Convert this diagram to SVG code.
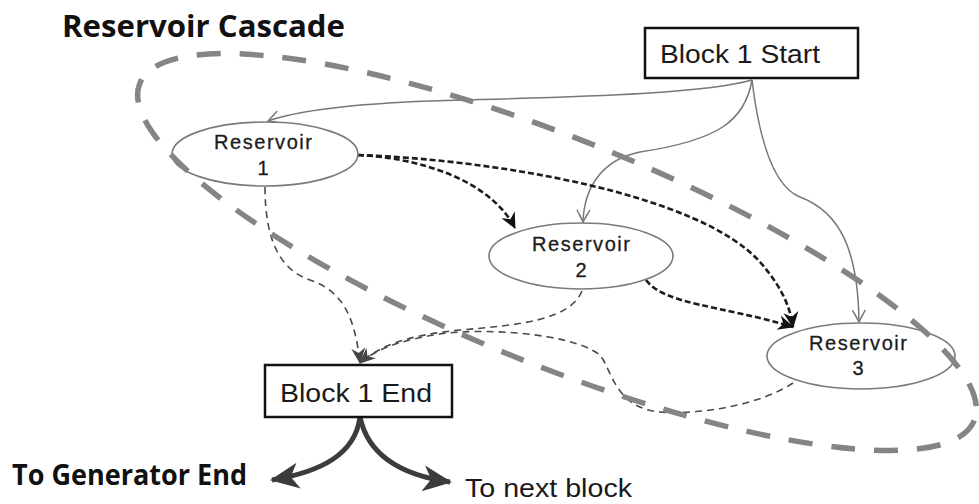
<svg xmlns="http://www.w3.org/2000/svg" width="979" height="504" viewBox="0 0 979 504">
  <style>
    .title { font-family: "Open Sans", "Liberation Sans", sans-serif; font-weight: 700; fill: #111; }
    .box { fill: #fff; stroke: #111; stroke-width: 2.5; }
    .box-label { font-family: "Liberation Sans", Arial, sans-serif; font-size: 25px; fill: #1a1a1a; }
    .res { fill: #fff; stroke: #7a7a7a; stroke-width: 1.6; }
    .res-label { font-family: "Liberation Sans", Arial, sans-serif; font-size: 20px; fill: #1c1c1c; stroke: #1c1c1c; stroke-width: 0.3; text-anchor: middle; }
    .feed { fill: none; stroke: #777; stroke-width: 1.5; }
    .spill { fill: none; stroke: #1c1c1c; stroke-width: 2.6; stroke-dasharray: 6 3; }
    .release { fill: none; stroke: #4a4a4a; stroke-width: 1.6; stroke-dasharray: 7 5; }
    .out { fill: none; stroke: #3c3c3c; stroke-width: 5; }
    .boundary { fill: none; stroke: #858585; stroke-width: 5.5; stroke-dasharray: 24 19; }
    .plain { font-family: "Liberation Sans", Arial, sans-serif; font-size: 26px; fill: #1a1a1a; }
  </style>
  <defs>
    <marker id="arrow-open" markerUnits="userSpaceOnUse" markerWidth="16" markerHeight="16" refX="13" refY="8" orient="auto">
      <path d="M1,1.5 L13,8 L1,14.5 M5,4 L13,8 L5,12" fill="none" stroke="#777" stroke-width="1.4"/>
    </marker>
    <marker id="arrow-solid" markerUnits="userSpaceOnUse" markerWidth="18" markerHeight="18" refX="15" refY="9" orient="auto">
      <path d="M0,1.5 L16,9 L0,16.5 L5,9 Z" fill="#111"/>
    </marker>
    <marker id="arrow-release" markerUnits="userSpaceOnUse" markerWidth="18" markerHeight="18" refX="15" refY="9" orient="auto">
      <path d="M0,2 L16,9 L0,16 L5,9 Z" fill="#444"/>
    </marker>
    <marker id="arrow-thick" markerUnits="userSpaceOnUse" markerWidth="32" markerHeight="28" refX="27" refY="14" orient="auto">
      <path d="M0,1 L29,14 L0,27 L8,14 Z" fill="#3c3c3c"/>
    </marker>
  </defs>

  <rect width="979" height="504" fill="#fff"/>

  <text class="title" x="62" y="37" font-size="31" textLength="283" lengthAdjust="spacingAndGlyphs">Reservoir Cascade</text>

  <!-- connectors -->
  <g id="connectors">
    <!-- inflows from block start -->
    <path class="feed" d="M752,80 C700,95 560,97 430,101 C350,104 300,110 268,121" marker-end="url(#arrow-open)"/>
    <path class="feed" d="M752,80 C745,120 720,140 640,152 C600,160 584,190 583,222" marker-end="url(#arrow-open)"/>
    <path class="feed" d="M752,80 C758,130 770,185 800,197 C840,212 858,250 859,322" marker-end="url(#arrow-open)"/>
    <!-- spills between reservoirs -->
    <path class="spill" d="M358,155 C420,158 490,180 515,228" marker-end="url(#arrow-solid)"/>
    <path class="spill" d="M358,155 C500,160 700,195 760,262 C780,285 790,305 793,327" marker-end="url(#arrow-solid)"/>
    <path class="spill" d="M646,280 C665,305 720,305 793,327" marker-end="url(#arrow-solid)"/>
    <!-- releases to block end -->
    <path class="release" d="M265,187 C265,240 280,270 310,280 C345,292 355,320 360,363" marker-end="url(#arrow-release)"/>
    <path class="release" d="M582,291 C570,320 520,325 460,330 C410,335 380,345 360,363" marker-end="url(#arrow-release)"/>
    <path class="release" d="M793,383 C760,405 700,415 660,412 C615,408 612,370 600,355 C570,332 480,328 440,334 C400,340 375,350 360,363"/>
    <!-- outputs of block end -->
    <path class="out" d="M360,417 C355,455 320,472 272,480" marker-end="url(#arrow-thick)"/>
    <path class="out" d="M360,417 C368,455 400,475 450,482" marker-end="url(#arrow-thick)"/>
  </g>

  <g id="block-start">
    <rect class="box" x="645" y="28" width="213" height="50"/>
    <text class="box-label" x="660" y="63" textLength="160" lengthAdjust="spacingAndGlyphs">Block 1 Start</text>
  </g>

  <g id="reservoir-1">
    <ellipse class="res" cx="265" cy="154" rx="93" ry="32"/>
    <text class="res-label" x="263" y="149" textLength="98" lengthAdjust="spacing">Reservoir</text>
    <text class="res-label" x="263" y="175">1</text>
  </g>

  <g id="reservoir-2">
    <ellipse class="res" cx="581" cy="256" rx="92" ry="33"/>
    <text class="res-label" x="581" y="251" textLength="98" lengthAdjust="spacing">Reservoir</text>
    <text class="res-label" x="581" y="277">2</text>
  </g>

  <g id="reservoir-3">
    <ellipse class="res" cx="861" cy="356" rx="94" ry="33"/>
    <text class="res-label" x="858" y="350" textLength="98" lengthAdjust="spacing">Reservoir</text>
    <text class="res-label" x="858" y="375">3</text>
  </g>

  <g id="block-end">
    <rect class="box" x="265" y="365" width="187" height="52"/>
    <text class="box-label" x="280" y="402" font-size="26" textLength="152" lengthAdjust="spacingAndGlyphs">Block 1 End</text>
  </g>

  <!-- cascade boundary -->
  <g id="cascade-boundary">
    <ellipse class="boundary" cx="557" cy="252" rx="450" ry="113" transform="rotate(22 557 252)"/>
  </g>

  <g id="labels">
    <text class="title" x="12" y="485" font-size="28" textLength="235" lengthAdjust="spacingAndGlyphs">To Generator End</text>
    <text class="plain" x="465" y="497" textLength="167" lengthAdjust="spacingAndGlyphs">To next block</text>
  </g>
</svg>
